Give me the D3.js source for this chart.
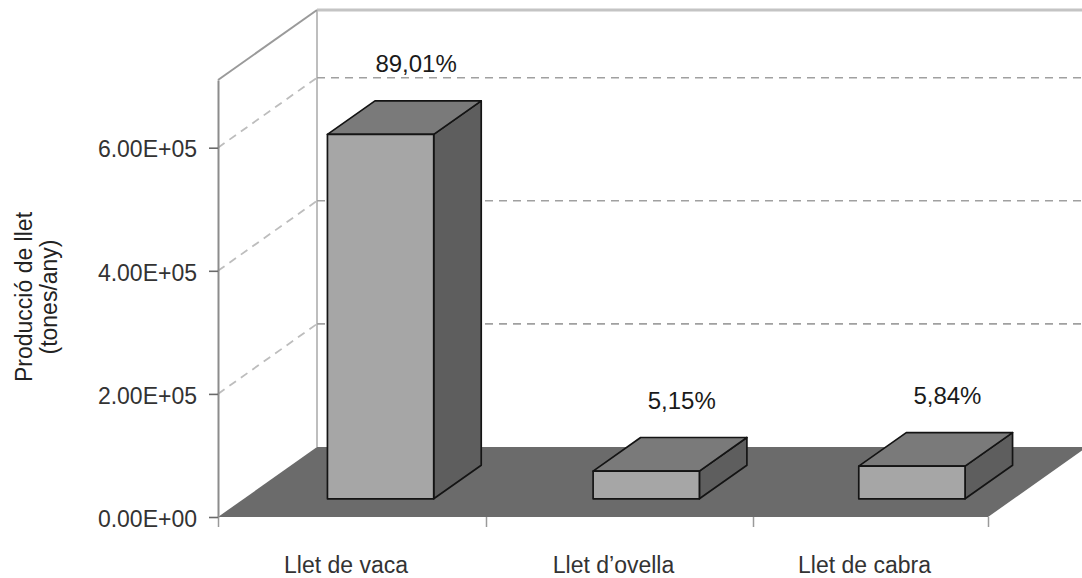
<!DOCTYPE html>
<html>
<head>
<meta charset="utf-8">
<script src="https://cdn.jsdelivr.net/npm/d3@7"></script>
<style>
  body { margin: 0; background: #fff; }
  svg { display: block; }
  text { font-family: "Liberation Sans", Arial, sans-serif; }
</style>
</head>
<body>
<svg id="chart" width="1082" height="578"></svg>
<script>
// Milk production by type (tonnes per year) and each type's share
const categories = ["Llet de vaca", "Llet d\u2019ovella", "Llet de cabra"];
const production = [592000, 45000, 53000];
const shareLabels = ["89,01%", "5,15%", "5,84%"];
const yTicks = [0, 200000, 400000, 600000];
const yTickLabels = ["0.00E+00", "2.00E+05", "4.00E+05", "6.00E+05"];
const yTitle = ["Producció de llet", "(tones/any)"];

const W = 1082, H = 578;
const svg = d3.select("#chart");

// Oblique 3D frame: front plane plus a depth offset toward the back wall
const DX = 99, DY = 70;
const yMax = 710000;
const frontLeft = 218;
const y = d3.scaleLinear().domain([0, yMax]).range([517, 80]);
// Category boundaries along the front edge of the floor
const edge = d3.scaleLinear().domain([0, 1, 2, 3]).range([218, 486, 753, 988]);
// Column placement within the front plane
const xBar = d3.scaleBand().domain(categories).range([222, 1019])
  .paddingInner(0.6).paddingOuter(0.3);
const Z0 = 0.26, Z1 = 0.74;

const proj = (x, v, z) => [x + z * DX, y(v) - z * DY];
const poly = pts => "M" + pts.map(p => p.join(",")).join("L") + "Z";
const line = pts => "M" + pts.map(p => p.join(",")).join("L");

// Back wall and side wall edges
const backTop = proj(frontLeft, yMax, 1);
const backBottom = proj(frontLeft, 0, 1);
svg.append("path")
  .attr("d", line([[backTop[0], backBottom[1]], backTop]))
  .attr("stroke", "#a8a8a8").attr("stroke-width", 1.5).attr("fill", "none");
svg.append("path")
  .attr("d", line([backTop, [W, backTop[1]]]))
  .attr("stroke", "#c4c4c4").attr("stroke-width", 3).attr("fill", "none");
svg.append("path")
  .attr("d", line([proj(frontLeft, yMax, 0), backTop]))
  .attr("stroke", "#9a9a9a").attr("stroke-width", 2).attr("fill", "none");

// Dashed gridlines: diagonal across the side wall, horizontal across the back wall
const grid = svg.append("g");
yTicks.filter(t => t > 0).forEach(t => {
  const a = proj(frontLeft, t, 0), b = proj(frontLeft, t, 1);
  grid.append("path").attr("d", line([a, b]))
    .attr("stroke", "#bdbdbd").attr("stroke-width", 1.8)
    .attr("stroke-dasharray", "8,6").attr("fill", "none");
  grid.append("path").attr("d", line([b, [W, b[1]]]))
    .attr("stroke", "#a0a0a0").attr("stroke-width", 1.6)
    .attr("stroke-dasharray", "8,6").attr("fill", "none");
});

// Floor
svg.append("path")
  .attr("d", poly([proj(edge(0), 0, 0), proj(edge(3), 0, 0), proj(edge(3), 0, 1), proj(edge(0), 0, 1)]))
  .attr("fill", "#6b6b6b");

// Category axis ticks along the front edge
const xAxis = d3.axisBottom(edge).tickValues([0, 1, 2, 3]).tickFormat("").tickSize(10).tickSizeOuter(0);
const gx = svg.append("g").attr("transform", `translate(0,${y(0)})`).call(xAxis);
gx.select(".domain").remove();
gx.selectAll(".tick line").attr("stroke", "#9a9a9a").attr("stroke-width", 1.5);

// Columns drawn as boxes: right side, top, front
const bars = svg.append("g").selectAll("g").data(categories).join("g");
bars.each(function (c, i) {
  const g = d3.select(this);
  const x0 = xBar(c), x1 = x0 + xBar.bandwidth(), v = production[i];
  const style = sel => sel.attr("stroke", "#141414").attr("stroke-width", 1.7).attr("stroke-linejoin", "round");
  g.append("path")
    .attr("d", poly([proj(x1, v, Z0), proj(x1, v, Z1), proj(x1, 0, Z1), proj(x1, 0, Z0)]))
    .attr("fill", "#5e5e5e").call(style);
  g.append("path")
    .attr("d", poly([proj(x0, v, Z0), proj(x1, v, Z0), proj(x1, v, Z1), proj(x0, v, Z1)]))
    .attr("fill", "#7a7a7a").call(style);
  g.append("path")
    .attr("d", poly([proj(x0, v, Z0), proj(x1, v, Z0), proj(x1, 0, Z0), proj(x0, 0, Z0)]))
    .attr("fill", "#a6a6a6").call(style);
});

// Share labels above each column
bars.append("text")
  .attr("x", (c, i) => proj(xBar(c) + xBar.bandwidth() / 2, production[i], Z1)[0] - 12)
  .attr("y", (c, i) => proj(0, production[i], Z1)[1] - 29)
  .attr("text-anchor", "middle")
  .attr("font-size", 24)
  .attr("fill", "#1a1a1a")
  .text((c, i) => shareLabels[i]);

// Value axis on the front-left edge
const yAxis = d3.axisLeft(y).tickValues(yTicks)
  .tickFormat((d, i) => yTickLabels[i]).tickSize(9).tickSizeOuter(0).tickPadding(12);
const gy = svg.append("g").attr("transform", `translate(${frontLeft},0)`).call(yAxis);
gy.select(".domain").attr("stroke", "#8c8c8c").attr("stroke-width", 2);
gy.selectAll(".tick line").attr("stroke", "#6a6a6a").attr("stroke-width", 1.6);
gy.selectAll(".tick text").attr("font-size", 23).attr("fill", "#333")
  .attr("font-family", "\"Liberation Sans\", Arial, sans-serif").attr("dy", "0.4em");

// Category labels
svg.append("g").selectAll("text").data(categories).join("text")
  .attr("x", (c, i) => edge(i + 0.5) - 6)
  .attr("y", 573)
  .attr("text-anchor", "middle")
  .attr("font-size", 23)
  .attr("fill", "#333")
  .text(c => c);

// Value axis title, two rotated lines
svg.append("g").selectAll("text").data(yTitle).join("text")
  .attr("transform", (d, i) => `translate(${32 + i * 25},297) rotate(-90)`)
  .attr("text-anchor", "middle")
  .attr("font-size", 23)
  .attr("fill", "#222")
  .text(d => d);
</script>
</body>
</html>
